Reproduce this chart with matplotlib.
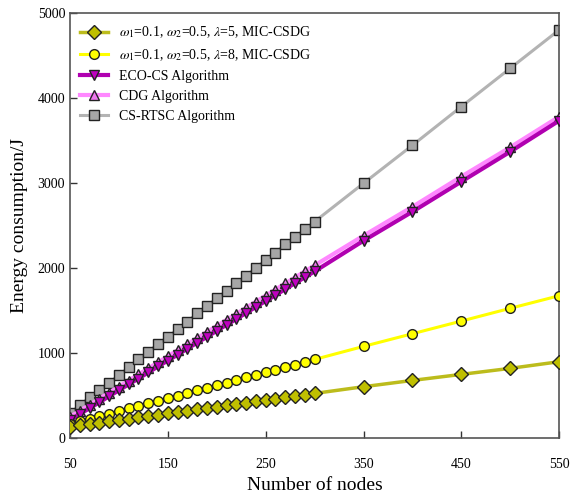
import numpy as np
import matplotlib
matplotlib.use("Agg")
import matplotlib.pyplot as plt

plt.rcParams['font.family'] = ['Liberation Serif', 'DejaVu Serif']
plt.rcParams['mathtext.fontset'] = 'stix'

# number of nodes
nodes = list(range(50, 301, 10)) + [350, 400, 450, 500, 550]

# energy consumption (J)
mic_l5 = [133, 149, 164, 180, 196, 211, 227, 243, 258, 274, 290, 305, 321, 337, 352, 368,
          384, 400, 415, 431, 447, 462, 478, 494, 509, 525, 604, 678, 749, 820, 898]
mic_l8 = [165, 196, 226, 257, 287, 318, 348, 378, 409, 439, 470, 500, 530, 561, 591, 622,
          652, 682, 713, 743, 774, 804, 834, 865, 895, 925, 1078, 1227, 1376, 1526, 1674]
eco_cs = [212, 282, 352, 420, 492, 562, 632, 700, 772, 842, 912, 980, 1052, 1122, 1190, 1262,
          1332, 1400, 1472, 1542, 1612, 1680, 1752, 1822, 1890, 1960, 2321, 2662, 3016, 3368, 3733]
cdg = [250, 320, 392, 462, 535, 605, 677, 748, 820, 890, 962, 1033, 1105, 1176, 1247, 1318,
       1390, 1460, 1532, 1604, 1675, 1746, 1818, 1888, 1960, 2030, 2380, 2720, 3075, 3420, 3780]
cs_rtsc = [290, 388, 479, 565, 651, 741, 831, 925, 1016, 1106, 1192, 1278, 1369, 1467, 1553, 1643,
           1733, 1820, 1910, 2004, 2094, 2180, 2278, 2361, 2455, 2545, 2996, 3443, 3898, 4349, 4800]

x_ticks = [50, 150, 250, 350, 450, 550]
y_ticks = [0, 1000, 2000, 3000, 4000, 5000]

fig = plt.figure(figsize=(5.81, 4.95), dpi=100)
ax = fig.add_axes([0.1205, 0.115, 0.842, 0.859])

# draw order: background lines first
l_rtsc, = ax.plot(nodes, cs_rtsc, color='#b3b3b3', lw=2.2, marker='s', ms=7,
                  mfc='#a6a6a6', mec='#222222', mew=1, zorder=2)
l_cdg, = ax.plot(nodes, cdg, color='#ff88ff', lw=3, marker='^', ms=7,
                 mfc='#ee77ee', mec='#222222', mew=1, zorder=3)
l_eco, = ax.plot(nodes, eco_cs, color='#b000b0', lw=3, marker='v', ms=7,
                 mfc='#c000c0', mec='#222222', mew=1, zorder=3)
l_l8, = ax.plot(nodes, mic_l8, color='#ffff00', lw=2.2, marker='o', ms=7,
                mfc='#ffff00', mec='#222222', mew=1, zorder=4)
l_l5, = ax.plot(nodes, mic_l5, color='#bcbc1c', lw=2.5, marker='D', ms=7,
                mfc='#bfbf00', mec='#222222', mew=1, zorder=4)

ax.legend([l_l5, l_l8, l_eco, l_cdg, l_rtsc],
          [r'$\omega_1$=0.1, $\omega_2$=0.5, $\lambda$=5, MIC-CSDG',
           r'$\omega_1$=0.1, $\omega_2$=0.5, $\lambda$=8, MIC-CSDG',
           'ECO-CS Algorithm', 'CDG Algorithm', 'CS-RTSC Algorithm'],
          loc='upper left', frameon=False, fontsize=10,
          bbox_to_anchor=(0.0, 0.995), borderaxespad=0.3)

ax.set_xlim(50, 550)
ax.set_ylim(0, 5000)
ax.set_xticks(x_ticks)
ax.set_yticks(y_ticks)
ax.tick_params(direction='in', length=5, width=1, labelsize=10, color='#333333')
ax.tick_params(axis='x', pad=14)
for s in ax.spines.values():
    s.set_color('#555555')
    s.set_linewidth(1.2)

ax.set_xlabel('Number of nodes', fontsize=14, labelpad=5)
ax.set_ylabel('Energy consumption/J', fontsize=14, labelpad=7)

fig.savefig('out.png', dpi=100)
